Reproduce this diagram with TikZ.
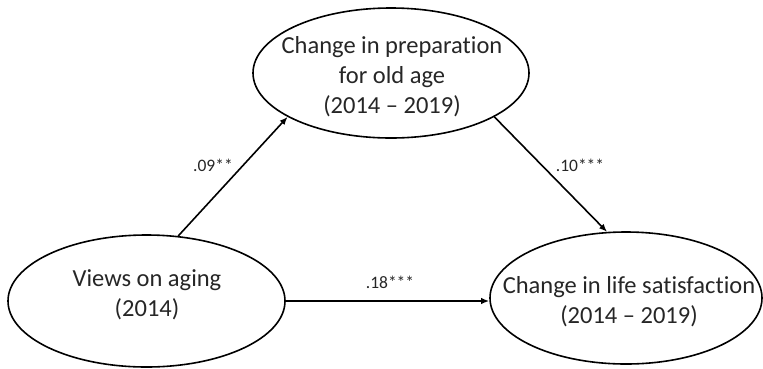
\documentclass[tikz,border=0pt]{standalone}
\usepackage{fontspec}
\setmainfont{Carlito}[Ligatures={NoCommon}]
\usetikzlibrary{shapes.geometric,arrows.meta}

\tikzset{
  construct/.style={draw=black, line width=1.6pt, ellipse, inner sep=0pt},
  construct text/.style={align=center, inner sep=0pt,
    font=\fontsize{24.5}{30}\selectfont, text=black!85},
  path arrow/.style={draw=black, line width=1.6pt,
    -{Latex[length=8pt,width=6.5pt]}},
  coef/.style={font=\fontsize{17.5}{18}\selectfont, text=black!85, inner sep=0pt}
}

\begin{document}
\begin{tikzpicture}[x=1pt,y=-1pt]
  \useasboundingbox (0,0) rectangle (763,368);

  % latent constructs (outlines)
  \node[construct, minimum width=276pt, minimum height=130pt] (prep) at (391,73) {};
  \node[construct, minimum width=277pt, minimum height=132pt] (views) at (146.5,301) {};
  \node[construct, minimum width=272pt, minimum height=132pt] (life) at (626,298) {};

  % construct labels
  \node[construct text] (prep-t) at (392,77)
    {Change in preparation\\for old age\\(2014 -- 2019)};
  \node[construct text] (views-t) at (147,295) {Views on aging\\(2014)};
  \node[construct text] (life-t) at (629,302)
    {Change in life satisfaction\\(2014 -- 2019)};

  % structural paths
  \draw[path arrow] (views.64.5) -- (prep.203.9);
  \draw[path arrow] (prep.337.6) -- (life.106.8);
  \draw[path arrow] (views.east) -- (views.east -| life.west);

  % path coefficients
  \node[coef] (c1) at (213,165) {.09**};
  \node[coef] (c2) at (580,165) {.10***};
  \node[coef] (c3) at (390,282) {.18***};
\end{tikzpicture}
\end{document}
